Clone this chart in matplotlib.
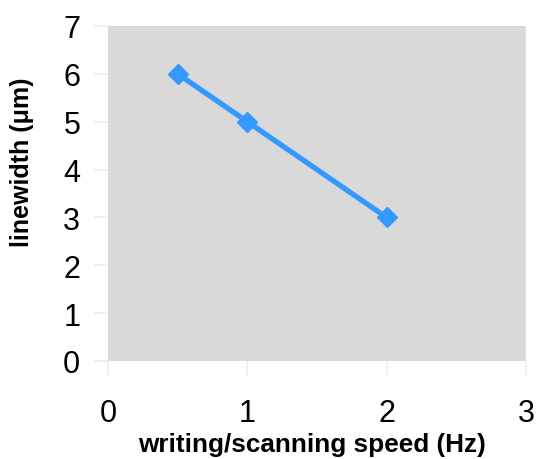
import matplotlib
matplotlib.use("Agg")
import matplotlib.pyplot as plt

speed_hz = [0.5, 1.0, 2.0]
linewidth_um = [6, 5, 3]
x_ticks = [0, 1, 2, 3]
y_ticks = [0, 1, 2, 3, 4, 5, 6, 7]

plt.rcParams['font.family'] = ['Liberation Sans', 'DejaVu Sans']

fig = plt.figure(figsize=(5.38, 4.60), dpi=100)
ax = fig.add_axes([108/538, 98/460, 418/538, 335/460])
ax.set_facecolor('#d9d9d9')

ax.plot(speed_hz, linewidth_um, color='#3399ff', lw=3.8,
        marker='D', markersize=10, markeredgecolor='#3399ff',
        markerfacecolor='#3399ff')

ax.set_xlim(0, 3)
ax.set_ylim(0, 7)
ax.set_xticks(x_ticks)
ax.set_yticks(y_ticks)
ax.tick_params(axis='both', labelsize=22, color='#f0f0f0', length=10, width=1.5)
ax.tick_params(axis='y', pad=10)
ax.tick_params(axis='x', pad=17)
for s in ax.spines.values():
    s.set_visible(False)

ax.set_xlabel('writing/scanning speed (Hz)', fontsize=18.8, fontweight='bold')
ax.set_ylabel('linewidth (μm)', fontsize=18, fontweight='bold')
ax.xaxis.set_label_coords(0.488, -0.213)
ax.yaxis.set_label_coords(-0.178, 0.597)

fig.savefig('out.png', dpi=100, facecolor='white')
